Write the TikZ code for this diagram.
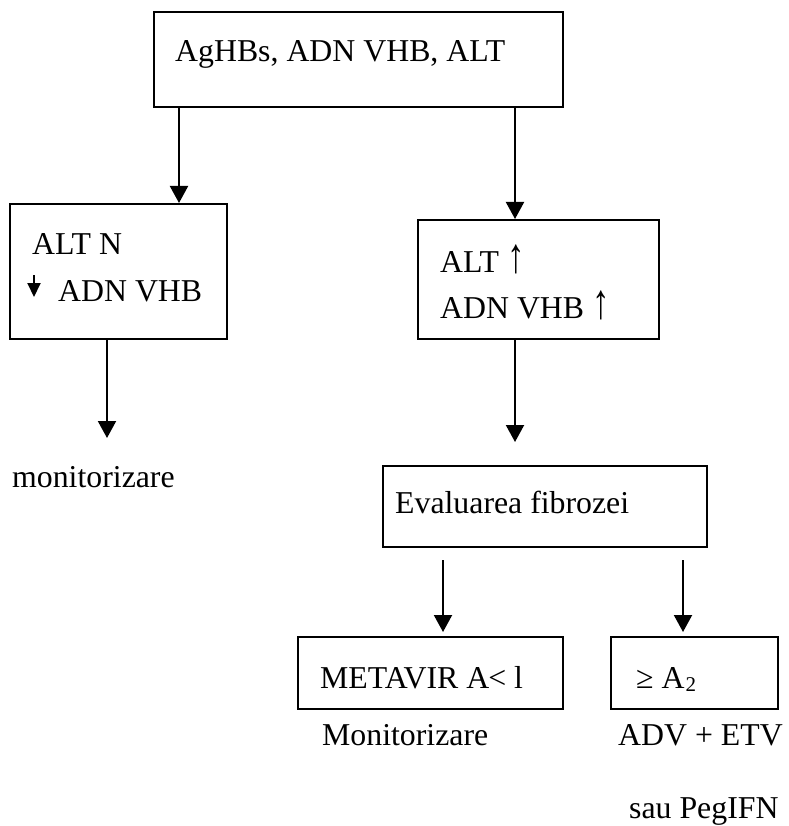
\documentclass[tikz,border=0pt]{standalone}
\usepackage{fontspec}
\setmainfont{Liberation Serif}
\usetikzlibrary{arrows.meta}
\newcommand{\tallup}{\scalebox{1.1}[1.55]{↑}}
\begin{document}
\begin{tikzpicture}[x=1pt,y=-1pt,
  box/.style={draw, line width=2pt, inner sep=0pt, rectangle},
  lbl/.style={inner sep=0pt, anchor=base west, font=\fontsize{31.8}{38}\selectfont},
  arr/.style={line width=2pt, -{Triangle[width=18pt,length=17pt]}},
  glyph/.style={line width=2pt, -{Triangle[width=13pt,length=14pt]}}]
\useasboundingbox (0,0) rectangle (788,826);
% boxes
\node[box, minimum width=409, minimum height=95] (top) at (358.5,59.5) {};
\node[box, minimum width=217, minimum height=135] (lbox) at (118.5,271.5) {};
\node[box, minimum width=241, minimum height=119] (rbox) at (538.5,279.5) {};
\node[box, minimum width=324, minimum height=81] (eval) at (545,506.5) {};
\node[box, minimum width=265, minimum height=72] (meta) at (430.5,673) {};
\node[box, minimum width=167, minimum height=72] (atwo) at (694.5,673) {};
% texts
\node[lbl] (ttop) at (175,62) {AgHBs, ADN VHB, ALT};
\node[lbl] (tl1) at (32,254) {ALT N};
\node[lbl] (tl2) at (58,301) {ADN VHB};
\node[lbl] (tr1) at (440,272) {ALT \tallup};
\node[lbl] (tr2) at (440,318) {ADN VHB \tallup};
\node[lbl] (mon) at (12,487) {monitorizare};
\node[lbl] (teval) at (395,513) {Evaluarea fibrozei};
\node[lbl] (tmeta) at (320,688) {METAVIR A\kern-1pt< l};
\node[lbl] (tatwo) at (636,688) {≥ A\kern1pt\raisebox{-0.12em}{\fontsize{21}{21}\selectfont 2}};
\node[lbl] (mon2) at (322,745) {Monitorizare};
\node[lbl] (adv) at (618,745) {ADV + ETV};
\node[lbl] (peg) at (629,818) {sau PegIFN};
% small down-arrow glyph
\coordinate (ga) at (34,275);
\coordinate (gb) at (34,297);
\draw[glyph] (ga) -- (gb);
% connectors
\coordinate (monend) at (107,438);
\draw[arr] (top.south -| 179,0) -- (lbox.north -| 179,0);
\draw[arr] (top.south -| 515,0) -- (rbox.north -| 515,0);
\draw[arr] (lbox.south -| 107,0) -- (monend);
\draw[arr, shorten >=23pt] (rbox.south -| 515,0) -- (eval.north -| 515,0);
\draw[arr, shorten <=12pt, shorten >=4pt] (eval.south -| 443,0) -- (meta.north -| 443,0);
\draw[arr, shorten <=12pt, shorten >=4pt] (eval.south -| 683,0) -- (atwo.north -| 683,0);
\end{tikzpicture}
\end{document}
